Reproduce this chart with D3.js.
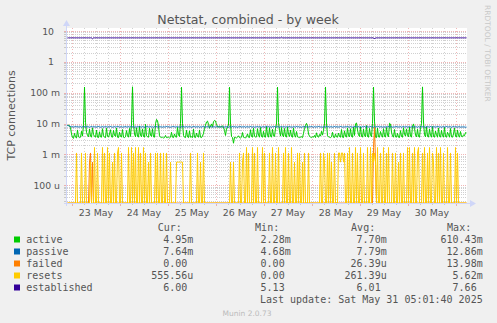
<!DOCTYPE html>
<html>
<head>
<meta charset="utf-8">
<script src="https://cdn.jsdelivr.net/npm/d3@7"></script>
<style>
  body { margin: 0; background: #f0f0f0; }
  svg text { font-family: "DejaVu Sans", sans-serif; }
  .mono { font-family: "DejaVu Sans Mono", monospace; white-space: pre; }
</style>
</head>
<body>
<svg id="chart" width="497" height="323"></svg>
<script>
// one sample every 30 minutes, 400 samples; series in milli unless noted
const active = [
  8.6,9.0,8.2,7.4,4.6,3.5,3.3,4.8,3.6,3.4,6.2,3.7,3.5,3.6,5.6,3.9,9.5,152,11,5.2,
  4.1,3.7,6.6,3.9,3.6,7.2,4.4,3.8,3.6,6.1,3.6,3.5,5.4,3.7,3.6,6.8,4.0,3.6,3.5,7.0,
  3.9,3.6,4.6,6.3,3.7,3.6,6.0,4.1,3.8,7.1,3.6,3.5,5.2,3.9,3.6,6.4,3.6,3.5,3.7,5.9,
  4.0,3.6,6.9,3.8,9.6,155,10.5,4.6,3.7,7.3,3.9,3.6,8.2,4.1,3.7,6.7,3.8,3.6,9.4,4.0,
  3.7,3.6,7.0,4.2,3.8,6.8,3.7,3.6,9.8,13.6,12.4,8.2,4.0,3.6,3.5,3.6,3.4,3.5,4.1,3.5,
  3.5,3.6,3.4,3.6,5.2,3.6,3.5,4.6,3.7,3.6,7.5,4.3,3.8,10.2,150,9.8,4.1,3.6,3.5,6.0,
  3.7,3.5,5.8,3.6,3.7,3.5,6.6,3.6,3.5,4.9,3.8,3.6,6.2,3.6,3.5,3.9,4.8,6.9,8.8,11.2,
  12.0,9.4,7.0,8.3,9.7,7.9,11.4,12.6,12.1,9.2,8.0,7.6,8.1,7.7,7.9,8.4,7.5,6.0,4.1,6.6,
  7.7,8.9,150,9.5,3.8,3.5,2.3,3.6,3.5,3.4,3.6,4.0,3.5,3.4,3.6,5.1,3.6,3.5,3.4,3.7,
  4.6,3.6,3.5,6.3,3.8,3.6,7.1,3.9,3.6,3.7,6.8,4.2,3.6,7.4,3.8,3.6,5.6,3.7,3.6,8.0,
  4.1,3.6,7.3,3.9,3.6,6.5,4.0,3.8,7.0,9.4,151,10.8,5.8,3.9,7.4,4.2,3.7,6.9,3.9,3.6,
  7.7,4.4,3.8,6.1,3.8,3.6,7.2,4.1,3.6,5.5,3.7,3.6,3.5,3.6,3.7,3.5,4.8,6.9,8.7,10.1,
  8.2,4.6,3.9,3.6,3.5,3.7,3.6,4.1,3.5,5.0,3.8,3.6,4.4,3.9,5.6,4.2,6.0,9.7,153,10.5,
  4.0,3.7,3.6,3.5,3.7,5.2,3.6,3.5,4.6,3.7,3.6,4.9,3.8,3.6,6.4,3.6,3.5,5.8,3.9,3.6,
  7.2,4.0,3.7,6.8,3.8,3.6,7.6,4.1,9.8,10.4,6.2,4.3,3.8,7.8,3.9,3.6,6.6,4.0,3.7,8.6,
  3.8,3.6,6.9,4.3,3.7,9.9,152,12.0,3.6,3.5,7.1,3.7,3.6,5.5,4.1,3.6,6.8,3.9,3.6,7.4,
  4.2,3.7,10.2,9.6,5.3,3.9,3.6,6.4,3.7,3.6,4.8,3.6,3.5,5.9,3.8,3.6,7.3,4.5,3.9,6.7,
  4.1,3.7,7.6,3.9,3.6,8.1,9.7,7.0,4.2,3.7,6.5,3.8,3.6,7.4,9.8,154,11.2,4.3,3.7,7.9,
  3.9,3.6,6.6,4.1,3.6,8.0,3.8,3.6,5.7,4.3,3.6,7.2,3.9,3.6,6.0,4.0,3.6,7.5,3.8,3.6,
  5.2,4.4,3.6,6.9,3.7,3.6,4.6,7.1,3.9,3.6,6.2,4.0,3.6,5.5,3.8,3.7,4.3,4.0,5.1,4.95
];
const passive = [
  8.6,8.5,8.2,8.0,7.8,7.9,7.7,7.8,8.0,7.8,7.9,7.7,7.8,7.9,7.6,7.8,8.0,7.9,7.7,7.8,
  7.9,7.8,7.6,7.8,8.0,7.7,7.9,7.8,7.8,7.7,7.9,8.0,7.8,7.6,7.8,7.9,7.7,7.8,7.9,7.8,
  7.7,7.9,7.8,8.0,7.8,7.6,7.8,7.9,7.7,7.8,8.0,7.9,7.7,7.8,7.9,7.6,7.8,7.8,8.0,7.7,
  7.8,7.9,7.7,7.8,8.1,7.8,7.9,7.6,7.8,7.7,7.9,7.8,8.0,7.8,7.7,7.9,7.8,7.6,7.8,7.9,
  8.0,7.7,7.8,7.9,7.7,7.8,7.6,7.9,7.8,8.0,7.8,7.7,7.9,7.8,7.8,7.6,7.9,7.7,7.8,8.0,
  7.8,7.9,7.7,7.6,7.8,7.9,8.0,7.8,7.7,7.8,7.9,7.7,7.8,7.6,7.9,7.8,8.0,7.7,7.8,7.9,
  7.7,7.8,7.9,7.8,7.6,7.8,8.0,7.9,7.7,7.8,7.8,7.9,7.6,7.8,7.7,7.9,8.1,7.8,7.7,7.8,
  7.9,7.8,7.7,8.0,7.8,7.6,7.9,7.8,7.7,7.9,7.8,8.0,7.7,7.8,7.9,7.6,7.8,7.7,7.9,7.8,
  7.8,7.6,7.9,7.8,7.7,8.0,7.8,7.9,7.7,7.8,7.6,7.8,7.9,8.0,7.7,7.8,7.8,7.9,7.6,7.8,
  7.9,7.7,7.8,8.0,7.8,7.7,7.9,7.6,7.8,7.8,8.0,7.7,7.9,7.8,7.6,7.8,7.9,7.7,7.8,8.1,
  7.8,7.9,7.7,7.8,7.6,7.9,7.8,8.0,7.7,7.8,7.9,7.8,7.6,7.8,8.0,7.7,7.9,7.8,7.7,7.8,
  7.9,7.8,8.0,7.7,7.8,7.6,7.9,7.8,7.7,8.0,7.8,7.9,7.7,7.8,7.6,7.8,7.9,8.0,7.7,7.8,
  7.8,7.7,7.9,7.8,8.0,7.8,7.6,7.9,7.7,7.8,7.8,8.0,7.9,7.7,7.8,7.6,7.8,7.9,7.7,8.0,
  7.8,7.9,7.7,7.8,7.9,7.6,7.8,8.0,7.7,7.9,7.8,7.7,7.8,8.0,7.9,7.6,7.8,7.7,7.9,7.8,
  8.0,7.8,7.7,7.9,7.8,7.6,7.8,7.9,8.0,7.7,7.8,7.9,7.7,7.8,7.6,7.9,7.8,8.0,7.7,7.8,
  7.9,7.7,7.8,8.0,7.8,7.9,7.6,7.8,7.7,7.9,7.8,8.0,7.7,7.8,7.9,7.6,7.8,7.8,7.7,7.9,
  7.8,8.0,7.7,7.8,7.9,7.6,7.8,7.7,7.9,8.0,7.8,7.7,7.8,7.9,7.6,7.8,8.0,7.7,7.8,7.9,
  7.7,7.8,7.9,7.6,7.8,8.0,7.7,7.9,7.8,7.8,7.6,7.9,7.7,8.0,7.8,7.8,7.9,7.7,7.6,7.8,
  7.9,7.8,7.7,8.0,7.8,7.6,7.9,7.8,7.7,7.8,8.0,7.9,7.7,7.8,7.6,7.8,7.9,7.7,7.8,8.0,
  7.8,7.7,7.9,7.8,7.6,7.8,8.0,7.7,7.9,7.8,7.7,7.8,7.9,7.6,7.8,7.7,7.8,7.7,7.6,7.64
];
const failed = [
  0,0,0,0,0,0,0,0,0,0,0,0,0,0,0,0,0,0,0,0,
  0,0,0.56,1.11,0,0.56,0,0,0,0,0,0,0,0,0,0,0,0,0,0,
  0,0,0,0,0,0,0,0,0,0,0,0,0,0,0,0,0,0,0,0,
  0,0,0,0,0,0,0,0,0,0,0,0,0,0,0,0,0,0,0,0,
  0,0,0,0,0,0,0,0,0,0,0,0,0,0,0,0,0,0,0,0,
  0,0,0,0,0,0,0,0,0,0,0,0,0,0,0,0,0,0,0,0,
  0,0,0,0,0,0,0,0,0,0,0,0,0,0,0,0,0,0,0,0,
  0,0,0,0,0,0,0,0,0,0,0,0,0,0,0,0,0,0,0,0,
  0,0,0,0,0,0,0,0,0,0,0,0,0,0,0,0,0,0,0,0,
  0,0,0,0,0,0,0,0,0,0,0,0,0,0,0,0,0,0,0,0,
  0,0,0,0,0,0,0,0,0,0,0,0,0,0,0,0,0,0,0,0,
  0,0,0,0,0,0,0,0,0,0,0,0,0,0,0,0,0,0,0,0,
  0,0,0,0,0,0,0,0,0,0,0,0,0,0,0,0,0,0,0,0,
  0,0,0,0,0,0,0,0,0,0,0,0,0,0,0,0,0,0,0,0,
  0,0,0,0,0,0,0,0,0,0,0,0,0,0,0,0,0,0,0,0,
  0,0,0,0,0,0,1.67,7.4,0.56,0,0,0,0,0,0,0,0,0,0,0,
  0,0,0,0,0,0,0,0,0,0,0,0,0,0,0,0,0,0,0,0,
  0,0,0,0,0,0,0,0,0,0,0,0,0,0,0,0,0,0,0,0,
  0,0,0,0,0,0,0,0,0,0,0,0,0,0,0,0,0,0,0,0,
  0,0,0,0,0,0,0,0,0,0,0,0,0,0,0,0,0,0,0,0
];
const resets = [
  0,0,0,0,0,0,0,0,0,1.11,0,0,0,0,1.11,0,0,0,1.11,0,
  0,0,0,0.56,0,0,0,1.67,0,0,1.11,0,0,0,0,1.67,0,1.11,0,0,
  1.67,0,1.11,0,0,0.56,0,1.11,0,0,1.11,1.67,0,0,1.11,0,0,0,0,0,
  0,1.67,0,0,1.67,0,1.11,0,1.67,0,0,1.67,0,1.11,0,0,1.67,0,1.11,0,
  0,0.56,0,1.11,0,0,0,0,1.11,0,1.11,0,0,1.11,0,0,1.11,0,0,1.11,
  0,0,0,0.56,0,0,0,0,0,0.56,0.56,0.56,0.56,0.56,0.56,0.56,0,0,0,0,
  0,0,0,1.11,0,0,0,0,0,0,1.11,0,0,0.56,0,0,1.11,0,0,0,
  0,0,0,0,0,0,0,0,0,0,0,0,0,0,0,0,0,0,0,0,
  0,0,0,0.56,0,0,0.56,0,0,0,0,0,1.11,0,0,0.56,1.11,0,0,1.67,
  0,1.11,0,0,0,1.67,0,1.11,0,0,1.67,0,0,0,0,1.67,0,1.11,0,0,
  0,0,1.11,0,0,1.67,0,0,1.11,0,0,1.67,0,0,0,0,1.11,0,1.67,0,
  0,1.11,0,0,1.67,0,0,0.56,0,0,1.11,0,1.11,0,0,0.56,0,1.11,0,0,
  0,1.11,0,0,0,0,0,0,0,0,0,0,0,1.11,0,0,1.11,0.56,0,0,
  1.11,0,1.11,0,0.56,0,0,1.11,0,0,0,1.11,1.11,0.56,1.11,1.11,0.56,1.11,0,0,
  1.11,0,1.67,0,0,1.11,0,0,1.67,0,1.11,0,0,1.67,0,0,1.11,0,0,0,
  1.67,0,0,1.67,0,1.11,0.56,1.11,0.56,0,1.67,0,0,1.11,0,0,1.67,0,0,1.11,
  0,1.67,0,0,0,1.11,0,0,1.11,0,0,0.56,0,1.11,0,0,1.11,0,0,0,
  1.67,0,1.67,0,0,1.11,0,1.67,0,0,1.11,1.67,0,0,0,1.11,0,1.67,0,0,
  1.11,0,1.67,0,0,1.11,0.56,0,0,1.67,0,1.11,0,1.67,0,0,1.11,0,0,0,
  1.67,0,0,1.11,0,0,0,0,1.67,0,1.11,0,0,0,0,0,0,0,0,0
];
// established is in plain units
const established = [
  6,6,6,6,6,6,6,6,6,6,6,6,6,6,6,6,6,6,6,6,
  6,6,6,6,6,5.6,6,6,6,6,6,6,6,6,6,6,6,6,6,6,
  6,6,6,6,6,6,6,6,6,6,6,6,6,6,6,6,6,6,6,6,
  6,6,6,6,6,6,6,6,6,6,6,6,6,6,6,6,6,6,6,6,
  6,6,6,6,6,6,6,6,6,6,6,6,6,6,6,6,6,6,6,6,
  6,6,6,6,6,6,6,6,6,6,6,6,6,6,6,6,6,6,6,6,
  6,6,6,6,6,6,6,6,6,6,6,6,6,6,6,6,6,6,6,6,
  6,6,6,6,6,6,6,6,6,6,6,6,6,6,6,6,6,6,6,6,
  6,6,6,6,6,6,6,6,6,6,6,6,6,6,6,6,6,6,6,6,
  6,6,6,6,6,6,6,6,6,6,6,6,6,6,6,6,6,6,6,6,
  6,6,6,6,6,6,6,6,6,6,6,6,6,6,6.3,6,6,6,6,6,
  6,6,6,6,6,6,6,6,6,6,6,6,6,6,6,6,6,6,6,6,
  6,6,6,6,6,6,6,6,6,6,6,6,6,6,6,6,6,6,6,6,
  6,6,6,6,6,6,6,6,6,6,6,6,6,6,6,6,6,6,6,6,
  6,6,6,6,6,6,6,6,6,6,6,6,6,6,6,6,6,6,6,6,
  6,6,6,6,6,6,6,5.5,6,6,6,6,6,6,6,6,6,6,6,6,
  6,6,6,6,6,6,6,6,6,6,6,6,6,6,6,6,6,6,6,6,
  6,6,6,6,6,6,6,6,6,6,6,6,6,6,6,6,6,6,6,6,
  6,6,6,6,6,6,6,6,6,6,6,6,6,6,6,6,6,6,6,6,
  6,6,6,6,6,6,6,6,6,6,6,6,6,6,6,6,6,6,6,6
];

const yTickValues = [10, 1, 0.1, 0.01, 0.001, 0.0001];
const yTickLabels = ["10", "1", "100 m", "10 m", "1 m", "100 u"];
const xTickLabels = ["23 May", "24 May", "25 May", "26 May", "27 May", "28 May", "29 May", "30 May"];

const legendNames = ["active", "passive", "failed", "resets", "established"];
const legendColors = ["#00CC00", "#0066B3", "#FF8000", "#FFCC00", "#330099"];
const legendCur = ["4.95m", "7.64m", "0.00 ", "555.56u", "6.00 "];
const legendMin = ["2.28m", "4.68m", "0.00 ", "0.00 ", "5.13 "];
const legendAvg = ["7.70m", "7.79m", "26.39u", "261.39u", "6.01 "];
const legendMax = ["610.43m", "12.86m", "13.98m", "5.62m", "7.66 "];

const svg = d3.select("#chart");
const pLeft = 67, pRight = 467, pTop = 28, pBottom = 203;
const stepMs = 30 * 60 * 1000;
const start = Date.UTC(2025, 4, 22, 21, 30);
const end = start + active.length * stepMs;

const x = d3.scaleUtc().domain([new Date(start), new Date(end)]).range([pLeft, pRight]);
const y = d3.scaleLog().domain([2.65e-5, 12.5]).range([pBottom, pTop]);
const crisp = v => Math.round(v) + 0.5;

svg.append("rect").attr("width", 497).attr("height", 323).attr("fill", "#f0f0f0");
svg.append("rect").attr("x", pLeft).attr("y", pTop).attr("width", pRight - pLeft).attr("height", pBottom - pTop).attr("fill", "#fff");

// grid
const grid = svg.append("g");
const majorCol = "rgba(225,110,110,0.5)", minorCol = "rgba(150,150,150,0.45)";
const hLines = [];
for (let e = -5; e <= 1; e++) {
  for (let m = 1; m <= 9; m++) {
    const v = m * Math.pow(10, e);
    if (v >= y.domain()[0] && v <= y.domain()[1]) hLines.push({ v, major: m === 1 });
  }
}
hLines.forEach(d => {
  const yy = crisp(y(d.v));
  const col = d.major ? majorCol : minorCol;
  grid.append("line").attr("x1", pLeft).attr("x2", pRight).attr("y1", yy).attr("y2", yy)
    .attr("stroke", col).attr("stroke-dasharray", "1,1");
  grid.append("line").attr("x1", pLeft - 3).attr("x2", pLeft).attr("y1", yy).attr("y2", yy)
    .attr("stroke", col);
});
d3.utcHour.every(6).range(new Date(start), new Date(end)).forEach(t => {
  const major = t.getUTCHours() === 0;
  const xx = crisp(x(t));
  const col = major ? majorCol : minorCol;
  grid.append("line").attr("x1", xx).attr("x2", xx).attr("y1", pTop).attr("y2", pBottom)
    .attr("stroke", col).attr("stroke-dasharray", "1,2");
  grid.append("line").attr("x1", xx).attr("x2", xx).attr("y1", pBottom).attr("y2", pBottom + (major ? 3 : 2))
    .attr("stroke", col);
});

// series
svg.append("clipPath").attr("id", "plot").append("rect")
  .attr("x", pLeft).attr("y", pTop).attr("width", pRight - pLeft).attr("height", pBottom - pTop + 1);
const tAt = i => new Date(start + (i + 0.5) * stepMs);
const line = scale => d3.line()
  .x((d, i) => x(tAt(i)))
  .y(d => y(Math.max(d * scale, y.domain()[0])));
const series = [
  { values: active, scale: 1e-3, color: legendColors[0] },
  { values: passive, scale: 1e-3, color: legendColors[1] },
  { values: failed, scale: 1e-3, color: legendColors[2] },
  { values: resets, scale: 1e-3, color: legendColors[3] },
  { values: established, scale: 1, color: legendColors[4] }
];
const plot = svg.append("g").attr("clip-path", "url(#plot)");
series.forEach(s => {
  plot.append("path").attr("d", line(s.scale)(s.values))
    .attr("fill", "none").attr("stroke", s.color).attr("stroke-width", 1);
});

// axes
const axisCol = "#CFD6F8";
svg.append("line").attr("x1", pLeft - 3).attr("x2", pRight + 4).attr("y1", pBottom + 0.5).attr("y2", pBottom + 0.5).attr("stroke", axisCol);
svg.append("path").attr("d", `M${pRight + 3},${pBottom - 3} L${pRight + 9},${pBottom + 0.5} L${pRight + 3},${pBottom + 4} Z`).attr("fill", axisCol);
svg.append("line").attr("x1", pLeft - 0.5).attr("x2", pLeft - 0.5).attr("y1", pBottom + 3).attr("y2", pTop - 4).attr("stroke", axisCol);
svg.append("path").attr("d", `M${pLeft - 4},${pTop - 2} L${pLeft - 0.5},${pTop - 8} L${pLeft + 3},${pTop - 2} Z`).attr("fill", axisCol);

// tick labels
yTickValues.forEach((v, i) => {
  const hasUnit = yTickLabels[i].includes(" ");
  svg.append("text").attr("x", hasUnit ? 60 : 54).attr("y", y(v) + 3.6)
    .attr("text-anchor", "end").attr("font-size", "9.3px").attr("fill", "#555")
    .text(yTickLabels[i]);
});
xTickLabels.forEach((lab, i) => {
  const noon = new Date(Date.UTC(2025, 4, 23 + i, 12));
  svg.append("text").attr("x", x(noon)).attr("y", 216)
    .attr("text-anchor", "middle").attr("font-size", "9.4px").attr("fill", "#555")
    .text(lab);
});

// titles
svg.append("text").attr("x", 248).attr("y", 24).attr("text-anchor", "middle")
  .attr("font-size", "12.6px").attr("fill", "#555").text("Netstat, combined - by week");
svg.append("text").attr("transform", "translate(15,115.5) rotate(-90)")
  .attr("text-anchor", "middle").attr("font-size", "11px").attr("fill", "#555").text("TCP connections");
svg.append("text").attr("transform", "translate(485,5) rotate(90)")
  .attr("font-size", "7.5px").attr("fill", "#c8c8c8").text("RRDTOOL / TOBI OETIKER");

// legend
const mono = (txt, xx, yy, anchor) => svg.append("text").attr("class", "mono")
  .attr("x", xx).attr("y", yy).attr("text-anchor", anchor || "start")
  .attr("font-size", "10px").attr("fill", "#555").text(txt);
const colEnds = [193.3, 290.7, 386.7, 482.7];
["Cur:", "Min:", "Avg:", "Max:"].forEach((h, i) => mono(h, colEnds[i] - 11.5, 231, "end"));
legendNames.forEach((name, i) => {
  const base = 243 + i * 12;
  svg.append("rect").attr("x", 14).attr("y", base - 6.5).attr("width", 6).attr("height", 6)
    .attr("fill", legendColors[i]);
  mono(name, 26.3, base);
  [legendCur, legendMin, legendAvg, legendMax].forEach((col, j) => mono(col[i], colEnds[j], base, "end"));
});
mono("Last update: Sat May 31 05:01:40 2025", 482.7, 303, "end");
svg.append("text").attr("x", 247).attr("y", 316).attr("text-anchor", "middle")
  .attr("font-size", "7.5px").attr("fill", "#bbb").text("Munin 2.0.73");
</script>
</body>
</html>
